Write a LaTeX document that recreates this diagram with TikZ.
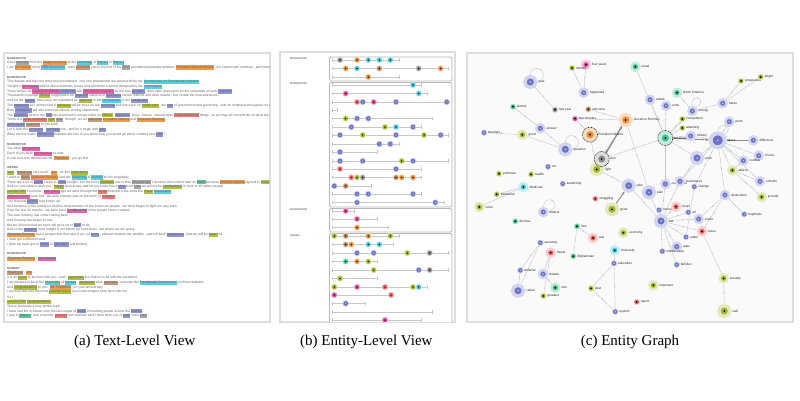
\documentclass[tikz,border=0pt]{standalone}
\usepackage{fontspec}
\setmainfont{Liberation Serif}
\newfontfamily\uifont{Liberation Sans}
\usetikzlibrary{arrows.meta,decorations.markings}

% entity colours
\definecolor{eOrange}{HTML}{E8892C}
\definecolor{eCyan}{HTML}{3EC6D8}
\definecolor{eBlue}{HTML}{6B73C6}
\definecolor{ePink}{HTML}{E04A9E}
\definecolor{eRed}{HTML}{EE6363}
\definecolor{eOlive}{HTML}{A3B520}
\definecolor{eGray}{HTML}{8C8C8C}
\definecolor{eBrown}{HTML}{B5835A}
\definecolor{eTeal}{HTML}{3CBF8A}
% icon colours
\colorlet{ieOrange}{black}
\colorlet{ieCyan}{black}
\colorlet{ieBlue}{eBlue!50!white}
\colorlet{iePink}{black}
\colorlet{ieRed}{black}
\colorlet{ieOlive}{black}
\colorlet{ieGray}{black}
\colorlet{ieBrown}{black}
\colorlet{ieTeal}{black}

\pgfdeclarelayer{background}
\pgfsetlayers{background,main}

% highlighted entity in the text view
\newcommand\hl[2]{{\setlength{\fboxsep}{0.3pt}\colorbox{#1}{\strut #2}}}
\newcommand\hO[1]{\hl{eOrange!85}{#1}}
\newcommand\hC[1]{\hl{eCyan!85}{#1}}
\newcommand\hB[1]{\hl{eBlue!75}{#1}}
\newcommand\hP[1]{\hl{ePink!85}{#1}}
\newcommand\hR[1]{\hl{eRed!85}{#1}}
\newcommand\hG[1]{\hl{eOlive!85}{#1}}
\newcommand\hY[1]{\hl{eGray!75}{#1}}
\newcommand\hN[1]{\hl{eBrown!80}{#1}}
\newcommand\hT[1]{\hl{eTeal!85}{#1}}
\newcommand\spk[1]{{\bfseries\fontsize{2.9}{3.2}\selectfont #1}}

% entity dot in the entity-level view
\newcommand\edot[3]{%
  \fill[fill=#1!35] (#2,#3) circle (3.2pt);
  \fill[fill=#1] (#2,#3) circle (2.3pt);
  \fill[fill=i#1] (#2,#3) circle (0.75pt);}

\tikzset{
  panel/.style={draw=black!13, line width=1.2pt},
  tline/.style={anchor=west, inner sep=0pt, font=\uifont\fontsize{3.35}{3.6}\selectfont, text=black!62},
  bspk/.style={anchor=west, inner sep=0pt, font=\uifont\bfseries\fontsize{2.6}{3}\selectfont, text=black!55},
  gbox/.style={draw=black!28, line width=0.8pt, rounded corners=1.5pt, fill=white},
  erow/.style={draw=black!22, line width=0.9pt},
  gn/.style={circle, fill=#1, draw=#1!30, inner sep=0pt, minimum size=5.5pt, line width=0.6pt,
    path picture={\fill[fill=i#1] (path picture bounding box.center) circle (1pt);}},
  gm/.style={minimum size=8pt, line width=2.4pt},
  gl/.style={minimum size=11pt, line width=3.4pt},
  gx/.style={minimum size=14pt, line width=4pt},
  glab/.style={font=\uifont\fontsize{3.2}{3.8}\selectfont, text=black!85, inner sep=0.8pt},
  lb/.style={label={[glab]right:#1}},
  dring/.style={draw=black!85, line width=0.6pt, dash pattern=on 0.9pt off 0.7pt},
  gedge/.style={draw=black!22, line width=0.4pt, postaction={decorate},
    decoration={markings, mark=at position 0.5 with {\arrow{Stealth[length=1.8pt,width=1.5pt]}}}},
  gthick/.style={draw=black!45, line width=0.9pt, -{Stealth[length=3.2pt,width=2.8pt]}},
  capt/.style={font=\fontsize{15}{18}\selectfont, inner sep=0pt, anchor=base}
}

\begin{document}
\begin{tikzpicture}[x=1pt, y=-1pt]
  \useasboundingbox (0,0) rectangle (800,400);

  % (a) text-level view
  \draw[panel, fill=white] (4,53) rectangle (270,322);
  \begin{scope}
    \clip (4.6,53.6) rectangle (269.4,321.4);
    \foreach \txt [count=\k from 0] in {
      {\spk{MODERATOR}},
      {Good \hY{evening} from the \hO{Magness Arena} at the \hC{University} of \hC{Denver} in \hC{Denver} .},
      {I am \hO{Jim Lehrer} of the \hC{PBS NewsHour} , and I \hN{welcome} you to the first of the \hY{2012} presidential debates between \hO{President Barack Obama} , the Democratic nominee , and former Massachusetts Governor .},
      {},
      {\spk{MODERATOR}},
      {This debate and the next three two presidential , one vice presidential are sponsored by the \hC{Commission on Presidential Debates} .},
      {Tonight 's \hP{90 minutes} will be about domestic issues and will follow a format designed by the \hC{commission} .},
      {There will be six \hP{roughly 15-minute} \hB{segments} with \hP{two-minute answers} for the first \hB{question} , then open discussion for the remainder of each \hB{segment} .},
      {Thousands of people \hG{offered} suggestions on \hB{segment} subjects or \hB{questions} via the Internet and other means , but I made the final selections .},
      {And for the \hB{record} , they were not submitted for \hG{approval} to the \hC{commission} or the \hB{candidates} .},
      {The \hB{segments} as I announced in \hG{advance} will be three on the \hB{economy} and one each on \hG{health care} , the \hB{role} of government and governing , with an emphasis throughout on differences .},
      {Both \hB{candidates} will also have two-minute closing statements .},
      {The \hB{audience} here in the \hB{hall} has promised to remain silent no \hG{cheers} , \hB{applause} , boos , hisses , among other \hR{noisy distracting} things , so we may all concentrate on what the candidates say .},
      {There is a \hR{noise exception} \hG{right} \hY{now} , though , as we \hN{welcome} \hO{President Obama} and \hO{Governor Romney} .},
      {\hB{APPLAUSE} \hN{welcome} to you both .},
      {Let 's start the \hB{economy} , \hB{segment} one , and let 's begin with \hB{jobs} .},
      {What are the major \hB{differences} between the two of you about how you would go about creating new \hB{jobs} ?},
      {},
      {\spk{MODERATOR}},
      {You have \hP{two minutes} .},
      {Each of you have \hP{two minutes} to start .},
      {A coin toss has determined Mr. \hO{President} , you go first .},
      {},
      {\spk{OBAMA}},
      {\hG{Well} , \hN{thank you} very much , \hO{Jim} , for this \hG{opportunity} .},
      {I want to \hN{thank} \hO{Governor Romney} and the \hC{University} of \hC{Denver} for his hospitality .},
      {There are a lot of \hB{points} I want to \hB{make} tonight , but the most \hG{important} one is that \hY{20 years ago} I became the luckiest man on \hT{Earth} because \hO{Michelle Obama} agreed to \hG{marry me} .},
      {And so I just want to wish you , \hG{happy} anniversary and let you know that a \hB{year} from \hY{now} we will not be \hG{celebrating it} in front of 40 million people .},
      {\hG{LAUGHTER} You know , \hP{four years} ago we went through the \hR{worst} financial crisis since the \hG{Great} \hC{Depression} .},
      {\hP{Millions of jobs} were lost , the auto industry was on the brink of \hR{collapse} .},
      {The financial \hB{system} had frozen up .},
      {And because of the resilience and the determination of the American people , we have begun to fight our way back .},
      {Over the last 30 months , we have seen \hP{5 million jobs} in the private sector created .},
      {The auto industry has come roaring back .},
      {And housing has begun to rise .},
      {But we all know that we have still got a lot of \hB{work} to do .},
      {And so the \hB{question} here tonight is not where we have been , but where we are going .},
      {\hO{Governor Romney} has a perspective that says if we cut \hB{taxes} , skewed towards the wealthy , and roll back \hB{regulations} , that we will be \hG{better} off .},
      {I have got a different view .},
      {I think we have got to \hB{invest} in \hB{education} and training .},
      {},
      {\spk{MODERATOR}},
      {\hO{Governor Romney} , \hP{two minutes} .},
      {},
      {\spk{ROMNEY}},
      {\hN{Thank you} , \hO{Jim} .},
      {It is an \hG{honor} to be here with you , and I \hG{appreciate} the chance to be with the president .},
      {I am pleased to be at the \hC{University} of \hC{Denver} , \hG{appreciate} their \hN{welcome} , and also the \hC{Presidential Commission} on these debates .},
      {And \hG{congratulations} to you , \hO{Mr. President} , on your anniversary .},
      {I am sure this was the most \hG{romantic place} you could imagine here here with me .},
      {So I .},
      {\hG{LAUGHTER} \hG{Congratulations} .},
      {This is obviously a very tender topic .},
      {I have had the occasion over the last couple of \hB{years} of meeting people across the \hB{country} .},
      {I was in \hT{Dayton} , and a woman \hR{grabbed} arm and she said I have been out of \hB{work} since \hY{May} .}}
      \node[tline] (ta\k) at (7,{58+4.78*\k}) {\txt};
  \end{scope}

  % (b) entity-level view
  \draw[panel, fill=white] (280,52) rectangle (455,322);
  \node[bspk] (bs1) at (290,59) {MODERATOR};
  \node[bspk] (bs2) at (290,84) {MODERATOR};
  \node[bspk] (bs3) at (290,210) {MODERATOR};
  \node[bspk] (bs4) at (290,235.7) {OBAMA};
  \begin{scope}
    \clip (280.6,52.6) rectangle (454.4,321.4);
    % sentence groups
    \draw[gbox] (329.5,57) rectangle (452,81);
    \draw[gbox] (329.5,82.5) rectangle (452,207);
    \draw[gbox] (329.5,208.5) rectangle (452,232);
    \draw[gbox] (329.5,233.5) rectangle (452,332);
    % sentence lines
    \foreach \y/\e in {60/399.3, 68.5/448.7, 77/399.3,
        85/421.3, 93.5/427, 102/448.7, 110/337.7, 118.5/432.7, 127/421.3, 135/448.7, 144/399.3,
        152/377, 161/448.7, 169/421.3, 177.5/421.3, 186/371.3, 194/421.3, 202.5/444,
        211/354.3, 219/377, 227.5/388.3,
        236/399.3, 244.5/393.7, 253/448.7, 261.5/377, 270/448.7, 278.5/377, 287/427, 295/391,
        303.5/365.7, 312/432.7, 320/421.3}
    {
      \draw[erow] (332,\y) -- (\e,\y);
      \draw[erow, line width=0.6pt] (332,\y-1.6) -- (332,\y+1.6);
      \draw[erow, line width=0.6pt] (\e,\y-1.6) -- (\e,\y+1.6);
    }
    % entities
    \foreach \col/\x/\y in {
        eGray/340/60, eOrange/357/60, eCyan/368.3/60, eCyan/379.3/60, eCyan/390.3/60,
        eOrange/345.7/68.5, eCyan/357/68.5, eBrown/379.3/68.5, eGray/418.7/68.5, eOrange/440.7/68.5,
        eOrange/368.3/77,
        eCyan/413/85,
        ePink/345.7/93.5, eCyan/418.7/93.5,
        eRed/357/102, eBlue/362.7/102, ePink/373.7/102, eBlue/396/102, eBlue/446.7/102,
        eOlive/345.7/118.5, eBlue/357/118.5, eBlue/368.3/118.5,
        eBlue/351.3/127, eOlive/385/127, eCyan/396/127, eBlue/413/127,
        eBlue/340/135, eOlive/362.7/135, eBlue/396/135, eOlive/424/135, eBlue/440.7/135,
        eBlue/379.3/144, eBlue/390.3/144,
        eBlue/340/152,
        eBlue/340/161, eBlue/362.7/161, eOlive/401.7/161, eBlue/413/161,
        eRed/340/169, eBlue/396/169,
        eRed/351.3/177.5, eOlive/357/177.5, eGray/362.7/177.5, eBrown/396/177.5, eOrange/401.7/177.5, eOrange/413/177.5,
        eBlue/334.3/186, eBrown/345.7/186,
        eBlue/357/194, eBlue/368.3/194, eBlue/413/194,
        eBlue/357/202.5, eBlue/435.3/202.5,
        ePink/345.7/211, ePink/357/219, eOrange/357/227.5,
        eOlive/334.3/236, eBrown/345.7/236, eOrange/368.3/236, eOlive/390.3/236,
        eBrown/345.7/244.5, eOrange/351.3/244.5, eCyan/368.3/244.5, eCyan/379.3/244.5,
        eBlue/357/253, eBlue/373.7/253, eOlive/407.3/253, eGray/429.7/253,
        eTeal/345.7/261.5, eOrange/357/261.5, eOlive/368.3/261.5,
        eOlive/373.7/270, eBlue/418.7/270, eGray/429.7/270,
        eOlive/340/278.5,
        eOlive/334.3/287, ePink/357/287, eRed/385/287, eOlive/413/287, eCyan/418.7/287,
        ePink/334.3/295, eRed/391/295,
        eBlue/345.7/303.5,
        ePink/385/320}
      {\edot{\col}{\x}{\y}}
  \end{scope}

  % (c) entity graph
  \begin{pgfonlayer}{background}
    \draw[panel, fill=black!2] (467,53) rectangle (793,322);
  \end{pgfonlayer}
  \node[gn=ePink,gm,lb=four years] (fy) at (586,64.7) {};
  \node[gn=eOlive,lb=months] (mo) at (572,68) {};
  \node[gn=eBlue,gl,lb=year] (yr) at (530.3,82) {};
  \node[gn=eBlue,gm,lb=happened] (hp) at (583.7,92.7) {};
  \node[gn=eTeal,gm,lb=Israel] (is) at (635.3,66.7) {};
  \node[gn=eTeal,gm,lb=North America] (na) at (677,92.7) {};
  \node[gn=eBlue,gm,lb=attack] (atk) at (650,99.7) {};
  \node[gn=eBlue,gm,lb=arms] (ar) at (666,105.7) {};
  \node[gn=eBlue,gm,lb=energy] (en) at (692.3,111) {};
  \node[gn=eBlue,gm,lb=future] (fu) at (722.7,103.3) {};
  \node[gn=eOlive,lb=prosperous] (pr) at (741,81) {};
  \node[gn=eOlive,lb=bright] (br) at (760.7,77) {};
  \node[gn=eTeal,lb=Detroit] (de) at (513,106.7) {};
  \node[gn=eGray,lb=last year] (ly) at (555,109.7) {};
  \node[gn=eBrown,lb=welcome] (we) at (588.3,109.3) {};
  \node[gn=ePink,lb=two minutes] (tm) at (575,118.7) {};
  \node[gn=eOrange,gl,lb=Governor Romney] (gr) at (625.7,120) {};
  \node[gn=eOrange,gl,lb=President Obama] (po) at (590,134.7) {};
  \node[gn=eOlive,lb=competition] (co) at (682.3,119) {};
  \node[gn=eOlive,lb=attacking] (ak) at (682.3,128) {};
  \node[gn=eBlue,gm,lb=answer] (an) at (540.3,128.3) {};
  \node[gn=eOlive,gm,lb=good] (go) at (522.3,134.7) {};
  \node[gn=eBlue,lb=teachers] (te) at (484,132.7) {};
  \node[gn=eBlue,gl,lb=question] (qu) at (565.3,149.3) {};
  \node[gn=eGray,gl,lb=now] (no) at (601.7,159) {};
  \node[gn=eOlive,gl,lb=right] (ri) at (596.7,169.3) {};
  \node[gn=eTeal,gl,lb=Americans] (am) at (665.3,138) {};
  \node[gn=eBlue,gm,lb=military] (mi) at (690.7,136) {};
  \node[gn=eBlue,gx,lb=taxes] (tx) at (717.7,140.3) {};
  \node[gn=eBlue,gm,lb=point] (pt) at (729.3,121.7) {};
  \node[gn=eBlue,gm,lb=difference] (df) at (753.3,140.3) {};
  \node[gn=eBlue,gm,lb=choice] (ch) at (758.7,155.7) {};
  \node[gn=eBlue,gm,lb=number] (nu) at (743.3,160.7) {};
  \node[gn=eBlue,gl,lb=work] (wo) at (697,158) {};
  \node[gn=eOlive,gm,lb=able to] (ab) at (732.3,170.3) {};
  \node[gn=eBlue,gm,lb=schools] (sc) at (760,181.3) {};
  \node[gn=eOlive,gm,lb=provide] (pv) at (761.7,197) {};
  \node[gn=eBlue,gm,lb=deductions] (dd) at (725,195) {};
  \node[gn=eBlue,lb=loopholes] (lh) at (744.3,214.3) {};
  \node[gn=eBlue,lb=cut] (cu) at (548,166.7) {};
  \node[gn=eOlive,lb=promises] (pm) at (499,173.7) {};
  \node[gn=eOlive,lb=health] (he) at (531,174.3) {};
  \node[gn=eBlue,lb=leadership] (le) at (562.7,183.7) {};
  \node[gn=eCyan,gm,lb=Medicare] (me) at (523.3,187) {};
  \node[gn=eOlive,lb=traditional] (tr) at (496.7,194.3) {};
  \node[gn=eOlive,gm,lb=voice] (vo) at (479.3,207) {};
  \node[gn=eBlue,gm,lb=federal] (fe) at (543.3,212) {};
  \node[gn=eTeal,lb=Arizona] (az) at (515.3,221.3) {};
  \node[gn=eBlue,gl,lb=jobs] (jo) at (628.7,185.7) {};
  \node[gn=eBlue,gl,lb=plan] (pl) at (649,192.3) {};
  \node[gn=eBlue,gm,lb=companies] (cm) at (665.3,184) {};
  \node[gn=eBlue,gm,lb=businesses] (bu) at (680,181.3) {};
  \node[gn=eBlue,lb=change] (cg) at (694.3,186.7) {};
  \node[gn=eRed,lb=struggling] (st) at (595.3,198.7) {};
  \node[gn=eOlive,gl,lb=good] (gd) at (612,209.3) {};
  \node[gn=eBlue,lb=something] (so) at (659,210) {};
  \node[gn=eRed,gm,lb=hours] (ho) at (676,206.7) {};
  \node[gn=eBlue,lb=all] (al) at (688.3,212.3) {};
  \node[gn=eBlue,gm,lb=credit] (cr) at (698.7,219) {};
  \node[gn=eBlue,gl,lb=tax] (ta) at (661,221) {};
  \node[gn=eRed,gm,lb=lower] (lo) at (702,231.3) {};
  \node[gn=eBlue,lb=under] (un) at (686,237) {};
  \node[gn=eBlue,gm,lb=rates] (ra) at (676.7,246.7) {};
  \node[gn=eBlue,lb=middle class] (mc) at (662.3,251.3) {};
  \node[gn=eBlue,lb=families] (fa) at (676.7,264.7) {};
  \node[gn=eOlive,gm,lb=economy] (ec) at (623.3,232.7) {};
  \node[gn=eCyan,gm,lb=University] (uv) at (614.7,250.3) {};
  \node[gn=eBlue,lb=education] (ed) at (614,263.3) {};
  \node[gn=eOlive,gm,lb=important] (im) at (653.3,285.3) {};
  \node[gn=eRed,lb=report] (rp) at (636.7,302) {};
  \node[gn=eBlue,lb=system] (sy) at (615.3,311.7) {};
  \node[gn=eOlive,lb=best] (be) at (591,288.3) {};
  \node[gn=eOlive,gm,lb=actually] (ac) at (723.7,278.3) {};
  \node[gn=eOlive,gl,lb=well] (wl) at (724.3,311) {};
  \node[gn=eTeal,lb=free] (fr) at (577,226.3) {};
  \node[gn=eRed,gm,lb=war] (wa) at (593,238) {};
  \node[gn=eTeal,lb=Afghanistan] (af) at (573.3,256.3) {};
  \node[gn=eBlue,lb=secretary] (se) at (540.3,242.7) {};
  \node[gn=eRed,gm,lb=threat] (th) at (550.7,252.7) {};
  \node[gn=eBlue,lb=defense] (dn) at (520.3,270.3) {};
  \node[gn=eBlue,gm,lb=threats] (ts) at (543,274) {};
  \node[gn=eTeal,gm,lb=Iran] (ir) at (555.3,287.7) {};
  \node[gn=eBlue,gl,lb=called] (ca) at (518,290.7) {};
  \node[gn=eOlive,lb=greatest] (gt) at (543.3,296) {};

  % dashed rings
  \draw[dring] (po) circle (7.5pt);
  \draw[dring] (no) circle (7.5pt);
  \draw[dring] (am) circle (7.5pt);

  % graph edges
  \begin{pgfonlayer}{background}
    \foreach \a/\b in {mo/hp, fy/hp, yr/ly, de/an, an/qu, te/go, go/qu, we/gr, tm/gr, po/tm,
        po/ri, no/am, ri/jo, gr/pl, is/am, atk/am, ar/am, en/am, co/am, ak/am, mi/am, am/wo,
        am/cm, na/en, en/fu, fu/pr, fu/br, tx/pt, tx/ch, tx/nu, tx/ab, tx/sc, tx/wo, tx/dd,
        tx/bu, tx/cg, tx/mi, ab/sc, ab/pv, nu/ab, wo/bu, pl/ta, jo/ta, cm/ta, bu/ta, so/ta,
        ho/ta, al/ta, cr/ta, lo/ta, un/ta, ra/ta, mc/ta, fa/ta, cg/un, dd/cr, dd/lh, dd/lo,
        lo/ac, ac/wl, ed/uv, ed/be, ed/sy, be/sy, fr/wa, fr/af, se/dn, dn/ca, se/ca, th/ts,
        th/gt, ts/ir, me/tr, me/vo}
      \draw[gedge] (\a) -- (\b);
    \draw[gthick] (gr) -- (no);
    \draw[gthick] (ri) -- (gr);
    \draw[gthick] (am) -- (tx);
    \draw[gthick] (df) -- (tx);
    \draw[gthick] (gd) -- (jo);
    % self loops
    \draw[gedge] (yr.north) .. controls +(3,-16) and +(16,-6) .. (yr.east);
    \draw[gedge] (qu.north) .. controls +(3,-16) and +(16,-6) .. (qu.east);
    \draw[gedge] (fe.north) .. controls +(3,-16) and +(16,-6) .. (fe.east);
    \draw[gedge] (en.north) .. controls +(-3,-14) and +(14,-8) .. (en.north east);
    \draw[gedge] (tx.north) .. controls +(2,-12) and +(12,-6) .. (tx.north east);
  \end{pgfonlayer}

  % captions
  \node[capt] (capa) at (134.7,345.7) {(a) Text-Level View};
  \node[capt] (capb) at (366.3,345.7) {(b) Entity-Level View};
  \node[capt] (capc) at (630,345.7) {(c) Entity Graph};
\end{tikzpicture}
\end{document}
